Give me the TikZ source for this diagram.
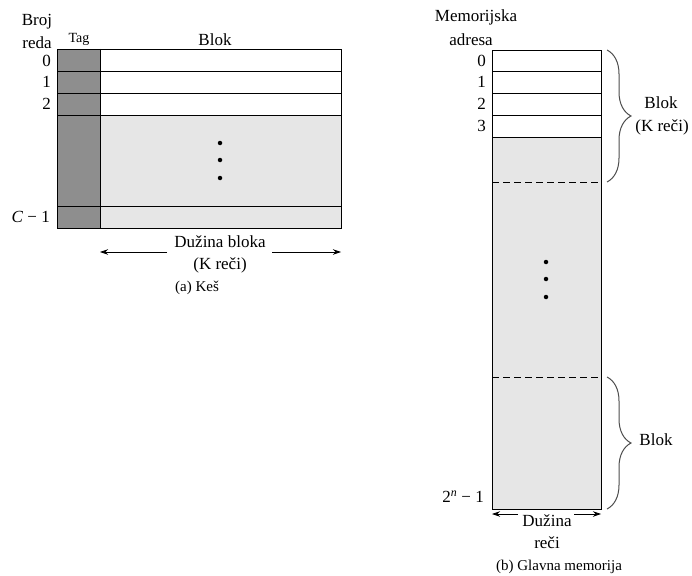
\documentclass[tikz,border=0pt]{standalone}
\usepackage{fontspec}
\setmainfont{Liberation Serif}
\usetikzlibrary{decorations.pathreplacing,arrows.meta}
\definecolor{tagg}{HTML}{8E8E8E}
\definecolor{lightg}{HTML}{E6E6E6}
\begin{document}
\begin{tikzpicture}[x=1pt,y=-1pt,
  lbl/.style={font=\fontsize{17}{19}\selectfont, inner sep=0pt},
  cell/.style={draw=black, line width=0.9pt},
  dimarrow/.style={-{Stealth[length=8pt,width=5.5pt]}, line width=0.7pt},
  bracestyle/.style={decorate, decoration={brace, amplitude=24pt, aspect=0.5}, line width=1pt, draw=black!70},
  dot/.style={circle, fill=black, inner sep=0pt, minimum size=4.5pt}]
\useasboundingbox (0,0) rectangle (692,575);
% ---------------- (a) cache ----------------
\fill[tagg] (57,49) rectangle (100,228);
\fill[lightg] (100,115) rectangle (341,228);
\foreach \y in {71,93,115,206} \draw[cell] (57,\y) -- (341,\y);
\draw[cell] (57,49) rectangle (341,228);
\draw[cell] (100,49) -- (100,228);
\node[dot] (ca1) at (220,143) {};
\node[dot] (ca2) at (220,160) {};
\node[dot] (ca3) at (220,178) {};
\node[lbl] (broj) at (37,22) {Broj};
\node[lbl] (reda) at (37,43) {reda};
\node[lbl, font=\fontsize{14}{16}\selectfont] (tag) at (79,39) {Tag};
\node[lbl] (blokh) at (215,40) {Blok};
\node[lbl, anchor=east] (r0) at (51,61) {0};
\node[lbl, anchor=east] (r1) at (51,82) {1};
\node[lbl, anchor=east] (r2) at (51,104) {2};
\node[lbl, anchor=east] (rc) at (50,217) {\textit{C} − 1};
\coordinate (aL) at (100,252);
\coordinate (aR) at (341,252);
\node[lbl] (dbl) at (220,242) {Dužina bloka};
\node[lbl] (kr) at (220,265) {(K reči)};
\draw[dimarrow] (167,252) -- (aL);
\draw[dimarrow] (272,252) -- (aR);
\node[lbl, font=\fontsize{15}{17}\selectfont] (capa) at (197,288) {(a) Keš};
% ---------------- (b) main memory ----------------
\fill[lightg] (492,137) rectangle (601,509);
\foreach \y in {71,93,115,137} \draw[cell] (492,\y) -- (601,\y);
\draw[cell, dashed, dash pattern=on 7pt off 4pt] (492,182) -- (601,182);
\draw[cell, dashed, dash pattern=on 7pt off 4pt] (492,377) -- (601,377);
\draw[cell] (492,50) rectangle (601,509);
\node[dot] (cb1) at (546,262) {};
\node[dot] (cb2) at (546,279) {};
\node[dot] (cb3) at (546,297) {};
\node[lbl] (mem) at (476,17) {Memorijska};
\node[lbl] (adr) at (471,40) {adresa};
\node[lbl, anchor=east] (m0) at (486,61) {0};
\node[lbl, anchor=east] (m1) at (486,82) {1};
\node[lbl, anchor=east] (m2) at (486,104) {2};
\node[lbl, anchor=east] (m3) at (486,126) {3};
\node[lbl, anchor=east] (mn) at (484,497) {2\textsuperscript{\textit{n}} − 1};
\draw[bracestyle] (607,50) -- (607,182);
\draw[bracestyle] (607,377) -- (607,509);
\node[lbl] (bk1) at (661,103) {Blok};
\node[lbl] (bk1b) at (662,127) {(K reči)};
\node[lbl] (bk2) at (656,440) {Blok};
\coordinate (bL) at (492,514);
\coordinate (bR) at (601,514);
\node[lbl] (dz) at (547,521) {Dužina};
\node[lbl] (rec) at (547,543) {reči};
\draw[dimarrow] (518,514) -- (bL);
\draw[dimarrow] (574,514) -- (bR);
\node[lbl, font=\fontsize{15}{17}\selectfont] (capb) at (559,567) {(b) Glavna memorija};
\end{tikzpicture}
\end{document}
